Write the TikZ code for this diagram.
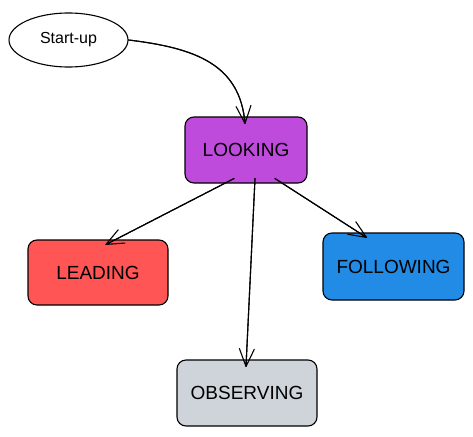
\documentclass[tikz,border=0pt]{standalone}
\usepackage{fontspec}
\setmainfont{Liberation Sans}
\usetikzlibrary{shapes.geometric,arrows.meta}
\definecolor{cviolet}{HTML}{BE4BDB}
\definecolor{cred}{HTML}{FF5555}
\definecolor{cblue}{HTML}{228BE6}
\definecolor{cgrey}{HTML}{CED4DA}
\tikzset{
  statebox/.style={draw=black, line width=1.1pt, rounded corners=9pt, font=\fontsize{19}{22}\selectfont, text=black, inner sep=0pt},
  startnode/.style={draw=black, line width=1.1pt, ellipse, font=\fontsize{16}{19}\selectfont, inner sep=0pt, minimum width=119pt, minimum height=54pt},
  arrline/.style={draw=black, line width=1.1pt, line join=round, line cap=round}
}
\begin{document}
\begin{tikzpicture}[x=1pt,y=-1pt]
\useasboundingbox (0,0) rectangle (473,436);
\node[startnode] (start) at (68.5,40) {Start-up};
\node[statebox, fill=cviolet, minimum width=122pt, minimum height=66pt] (look) at (246,150) {LOOKING};
\node[statebox, fill=cred, minimum width=140pt, minimum height=65pt] (lead) at (98,272.5) {LEADING};
\node[statebox, fill=cblue, minimum width=141pt, minimum height=67pt] (follow) at (393.5,266.5) {FOLLOWING};
\node[statebox, fill=cgrey, minimum width=140pt, minimum height=66pt] (obs) at (247,393) {OBSERVING};
\coordinate (t0) at ([xshift=-1pt,yshift=-7pt]look.north);
\coordinate (s1) at ([xshift=-12pt,yshift=5pt]look.south);
\coordinate (t1) at ([xshift=8pt,yshift=-5pt]lead.north);
\coordinate (s2) at ([xshift=29pt,yshift=5pt]look.south);
\coordinate (t2) at ([xshift=-27pt,yshift=-5pt]follow.north);
\coordinate (s3) at ([xshift=9pt,yshift=5pt]look.south);
\coordinate (t3) at ([xshift=-1pt,yshift=-7pt]obs.north);
\draw[arrline] (start.east) .. controls (195,48) and (240,64) .. (t0) -- ([turn]157:19pt);
\draw[arrline] (start.east) .. controls (195,48) and (240,64) .. (t0) -- ([turn]-157:19pt);
\draw[arrline] (s1) -- (t1) -- ([turn]157:19pt);
\draw[arrline] (s1) -- (t1) -- ([turn]-157:19pt);
\draw[arrline] (s2) -- (t2) -- ([turn]157:19pt);
\draw[arrline] (s2) -- (t2) -- ([turn]-157:19pt);
\draw[arrline] (s3) -- (t3) -- ([turn]157:19pt);
\draw[arrline] (s3) -- (t3) -- ([turn]-157:19pt);
\end{tikzpicture}
\end{document}
